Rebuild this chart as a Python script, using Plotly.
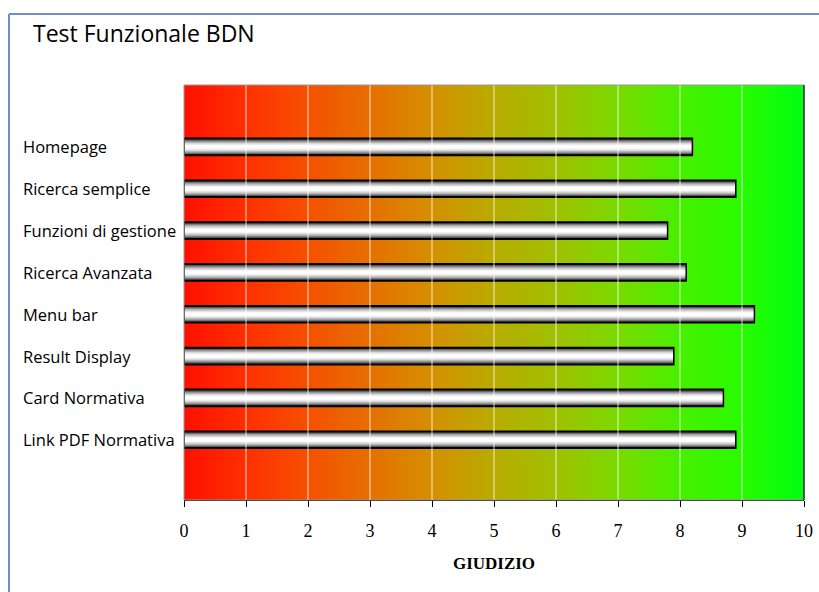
import numpy as np
import plotly.graph_objects as go

categories = ["Homepage", "Ricerca semplice", "Funzioni di gestione", "Ricerca Avanzata",
              "Menu bar", "Result Display", "Card Normativa", "Link PDF Normativa"]
values = [8.2, 8.9, 7.8, 8.1, 9.2, 7.9, 8.7, 8.9]
x_ticks = list(range(0, 11))
title_text = "Test Funzionale BDN"
x_title = "GIUDIZIO"

W, H = 819, 592
L, R, T, B = 184, 15, 85, 92
pw, ph = W - L - R, H - T - B

n = len(categories)
ypos = list(range(n))
y_lo, y_hi = -1.48, n - 1 + 1.44

fig = go.Figure()

gx = np.linspace(0, 10, 201)
fig.add_trace(go.Heatmap(
    x=gx, y=[y_lo, y_hi], z=[gx, gx],
    colorscale=[[0.0, "#ff1000"], [0.1, "#ff3000"], [0.2, "#f55000"], [0.3, "#e67000"],
                [0.4, "#d49000"], [0.5, "#b8ac00"], [0.6, "#a0c000"], [0.7, "#7ada00"],
                [0.8, "#48f000"], [0.9, "#28fb00"], [1.0, "#00ff10"]],
    showscale=False, hoverinfo="skip", zsmooth="best"))

for v in x_ticks[1:-1]:
    fig.add_trace(go.Scatter(x=[v, v], y=[y_lo, y_hi], mode="lines",
                             line=dict(color="rgba(255,255,255,0.8)", width=1),
                             showlegend=False, hoverinfo="skip"))

layers = [(0.41, "#000000"), (0.35, "#5a5a5a"), (0.30, "#8c8c8c"), (0.25, "#b4b4b4"),
          (0.19, "#d8d8d8"), (0.13, "#f0f0f0"), (0.08, "#ffffff")]
for w, c in layers:
    fig.add_trace(go.Bar(x=values, y=ypos, orientation="h", width=w,
                         marker=dict(color=c, line=dict(width=0)),
                         showlegend=False, hoverinfo="skip"))
fig.add_trace(go.Bar(x=values, y=ypos, orientation="h", width=0.41,
                     marker=dict(color="rgba(0,0,0,0)", line=dict(color="#000000", width=1.5)),
                     showlegend=False, hoverinfo="skip"))

fig.update_layout(
    width=W, height=H, margin=dict(l=L, r=R, t=T, b=B, autoexpand=False),
    paper_bgcolor="white", plot_bgcolor="white", barmode="overlay",
    showlegend=False,
    xaxis=dict(range=[0, 10], tickvals=x_ticks, ticks="outside", ticklen=6, tickcolor="#000",
               ticklabelstandoff=8, automargin=False,
               showgrid=False, zeroline=False, showline=True, linecolor="#000", linewidth=1,
               tickfont=dict(family="Liberation Serif", size=18, color="#000"),
               title=dict(text="<b>" + x_title + "</b>", standoff=17,
                          font=dict(family="Liberation Serif", size=17, color="#000"))),
    yaxis=dict(range=[y_hi, y_lo], showticklabels=False, showgrid=False, zeroline=False,
               ticks="", automargin=False),
)

for i, c in enumerate(categories):
    fig.add_annotation(x=(21 - L) / pw, xref="paper", y=i, yref="y", text=c,
                       showarrow=False, xanchor="left", yanchor="middle",
                       font=dict(family="Open Sans", size=16.5, color="#000"))

fig.add_annotation(x=(30.5 - L) / pw, xref="paper", y=(H - B - 33) / ph, yref="paper",
                   text=title_text, showarrow=False, xanchor="left", yanchor="middle",
                   font=dict(family="Open Sans", size=23, color="#000"))

fig.add_shape(type="rect", xref="paper", yref="paper", x0=0, x1=1, y0=0, y1=1,
              line=dict(color="#999999", width=1), layer="above")
fig.add_shape(type="line", xref="paper", yref="paper", x0=1, x1=1, y0=0, y1=1,
              line=dict(color="#333333", width=1.5), layer="above")

fx = (9 - L) / pw
fy = (H - B - 14) / ph
fig.add_shape(type="line", xref="paper", yref="paper", x0=fx, x1=(W + 5 - L) / pw, y0=fy, y1=fy,
              line=dict(color="#6d8fc6", width=2))
fig.add_shape(type="line", xref="paper", yref="paper", x0=fx, x1=fx, y0=fy, y1=-(B + 5) / ph,
              line=dict(color="#6d8fc6", width=2))

fig.write_html("out.html", config={"displayModeBar": False},
               post_script="document.body.style.margin='0';document.body.style.overflow='hidden';")
